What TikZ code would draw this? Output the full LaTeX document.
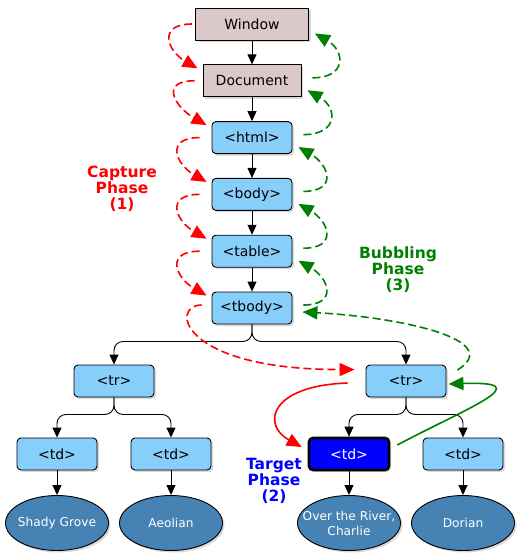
\documentclass[tikz,border=0pt]{standalone}
\usepackage{fontspec}
\setmainfont{DejaVu Sans}
\usepackage{xcolor}
\usepackage{tikz}
\usetikzlibrary{arrows.meta, positioning, shapes.geometric, shadows}
\definecolor{mauve}{RGB}{219,200,200}
\definecolor{skyblue}{RGB}{135,206,250}
\definecolor{steel}{RGB}{70,130,180}
\definecolor{leafgreen}{RGB}{0,128,0}
\tikzstyle{shade} = [drop shadow={shadow xshift=2pt, shadow yshift=-2pt, opacity=0.3}]
\tikzstyle{winbox} = [rectangle, draw, line width=0.9pt, fill=mauve, minimum width=98pt, minimum height=32pt, shade]
\tikzstyle{tag} = [rectangle, draw, line width=0.9pt, fill=skyblue, rounded corners=4pt, minimum width=80pt, minimum height=32pt, shade]
\tikzstyle{target} = [tag, fill=blue, text=white, line width=2.6pt]
\tikzstyle{leaf} = [ellipse, draw, line width=0.9pt, fill=steel, text=white, align=center, inner xsep=-10pt, inner ysep=0pt, minimum width=103pt, minimum height=55pt, font=\fontsize{12.2}{15}\selectfont, shade]
\tikzstyle{link} = [line width=0.9pt, -{Triangle[length=10pt, width=9pt]}]
\tikzstyle{capture} = [red, line width=1.6pt, dash pattern=on 8pt off 4pt, -{Triangle[length=15pt, width=13pt]}]
\tikzstyle{bubble} = [leafgreen, line width=1.6pt, dash pattern=on 8pt off 4pt, -{Triangle[length=15pt, width=13pt]}]
\tikzstyle{phase} = [align=center, font=\fontsize{15.5}{16}\selectfont\bfseries]

\begin{document}
\begin{tikzpicture}[node distance=56.8pt, font=\fontsize{14}{16}\selectfont]
    \useasboundingbox (0,0) rectangle (520pt,-560pt);

    \node (win) [winbox, minimum width=113pt] at (252pt,-24pt) {Window};
    \node (doc) [winbox, below of=win] {Document};
    \node (html) [tag, below of=doc] {<html>};
    \node (body) [tag, below of=html] {<body>};
    \node (table) [tag, below of=body] {<table>};
    \node (tbody) [tag, below of=table] {<tbody>};

    \node (trL) [tag, node distance=73pt, below of=tbody, xshift=-138pt] {<tr>};
    \node (trR) [tag, node distance=73pt, below of=tbody, xshift=154pt] {<tr>};
    \node (td1) [tag, node distance=73pt, below of=trL, xshift=-57pt] {<td>};
    \node (td2) [tag, node distance=73pt, below of=trL, xshift=57pt] {<td>};
    \node (td3) [target, node distance=73pt, below of=trR, xshift=-57pt] {<td>};
    \node (td4) [tag, node distance=73pt, below of=trR, xshift=57pt] {<td>};

    \node (shady) [leaf, node distance=69pt, below of=td1] {Shady Grove};
    \node (aeolian) [leaf, node distance=69pt, below of=td2] {Aeolian};
    \node (river) [leaf, node distance=69pt, below of=td3] {Over the River,\\Charlie};
    \node (dorian) [leaf, node distance=69pt, below of=td4] {Dorian};

    \node (capture) [phase, red] at (122pt,-189pt) {Capture\\Phase\\(1)};
    \node (bubbling) [phase, leafgreen] at (398pt,-270pt) {Bubbling\\Phase\\(3)};
    \node (targetph) [phase, blue] at (274pt,-481pt) {Target\\Phase\\(2)};

    \path[link] (win) edge (doc)
                (doc) edge (html)
                (html) edge (body)
                (body) edge (table)
                (table) edge (tbody)
                (td1) edge (shady)
                (td2) edge (aeolian)
                (td3) edge (river)
                (td4) edge (dorian);

    \foreach \p/\c in {tbody/trL, tbody/trR, trL/td1, trL/td2, trR/td3, trR/td4}
        \draw[link, rounded corners=9pt] (\p.south) -- ++(0,-17pt) -| (\c.north);

    % capture phase
    \foreach \a/\b/\s in {win/doc/3pt, doc/html/8pt, html/body/12pt, body/table/12pt, table/tbody/12pt}
        \draw[capture] ([xshift=-\s]\a.west) to[out=180, in=150, looseness=2] ([xshift=-5pt, yshift=-4pt]\b.north west);
    \draw[capture] ([xshift=-10pt, yshift=3pt]tbody.west)
        to[out=180, in=180, out distance=32pt, in distance=175pt] ([xshift=-11pt, yshift=-5pt]trR.north west);

    % target phase
    \draw[red, line width=1.6pt, -{Triangle[length=15pt, width=13pt]}] ([xshift=-18pt, yshift=-2pt]trR.west)
        to[out=182, in=151, out distance=78pt, in distance=46pt] ([xshift=-6pt, yshift=7pt]td3.west);
    \draw[leafgreen, line width=1.6pt, -{Triangle[length=15pt, width=13pt]}] ([xshift=7pt, yshift=9pt]td3.east)
        to[out=28, in=2, out distance=81pt, in distance=92pt] ([xshift=2pt, yshift=-3pt]trR.east);

    % bubbling phase
    \draw[bubble] ([xshift=11pt, yshift=11pt]trR.east)
        to[out=32, in=-3, out distance=57pt, in distance=98pt] ([xshift=10pt, yshift=-4pt]tbody.east);
    \foreach \a/\b in {doc/win, html/doc, body/html, table/body, tbody/table}
        \draw[bubble] ([xshift=11pt, yshift=3pt]\a.east) to[out=0, in=-30, looseness=2] ([xshift=6pt, yshift=7pt]\b.south east);
\end{tikzpicture}
\end{document}
